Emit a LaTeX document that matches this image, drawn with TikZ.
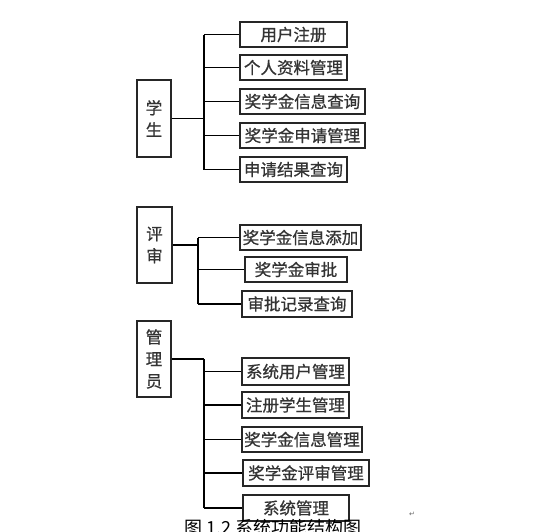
\documentclass[tikz,border=0pt]{standalone}
\usepackage{fontspec}
\newfontfamily\cjk[FakeBold=0.8]{Noto Sans CJK SC}
\newfontfamily\cjkcap{Noto Sans CJK SC}
\newfontfamily\dejavu{DejaVu Sans}
\begin{document}
\begin{tikzpicture}[x=1pt,y=-1pt,
  leaf/.style={draw=black!85,line width=1.4pt,inner sep=0pt,font=\cjk\fontsize{16.5}{18}\selectfont,text=black!80},
  role/.style={draw=black!85,line width=1.4pt,inner sep=0pt,align=center,font=\cjk\fontsize{16.5}{22}\selectfont,text=black!80},
  wire/.style={draw=black,line width=1.2pt}]
\useasboundingbox (0,0) rectangle (559,531);
\clip (0,0) rectangle (559,531);
% helper macro: box from corners
\newcommand{\bx}[6]{\node[#1,minimum width={#4-#2},minimum height={#5-#3}] (#6) at ({(#2+#4)/2},{(#3+#5)/2})}
% student
\bx{role}{137}{80}{171}{157}{stu} {学\\生};
\bx{leaf}{240}{22}{347}{47}{s1} {用户注册};
\bx{leaf}{240}{55}{347}{80}{s2} {个人资料管理};
\bx{leaf}{240}{89}{365}{114}{s3} {奖学金信息查询};
\bx{leaf}{240}{123}{365}{148}{s4} {奖学金申请管理};
\bx{leaf}{240}{157}{347}{182}{s5} {申请结果查询};
\coordinate (xs) at (204,0);
\draw[wire] (stu.east) -- (stu.east -| xs);
\draw[wire] (s1.west -| xs) -- (s5.west -| xs);
\foreach \n in {s1,s2,s3,s4,s5} \draw[wire] (\n.west -| xs) -- (\n.west);
% review
\bx{role}{137}{207}{172}{283}{rev} {评\\审};
\bx{leaf}{240}{225}{361}{250}{r1} {奖学金信息添加};
\bx{leaf}{245}{257}{347}{282}{r2} {奖学金审批};
\bx{leaf}{242}{291}{352}{317}{r3} {审批记录查询};
\coordinate (xr) at (198,0);
\draw[wire] (rev.east) -- (rev.east -| xr);
\draw[wire] (r1.west -| xr) -- (r3.west -| xr);
\foreach \n in {r1,r2,r3} \draw[wire] (\n.west -| xr) -- (\n.west);
% admin
\bx{role}{137}{321}{171}{397}{adm} {管\\理\\员};
\bx{leaf}{242}{358}{349}{385}{a1} {系统用户管理};
\bx{leaf}{242}{392}{349}{418}{a2} {注册学生管理};
\bx{leaf}{242}{427}{362}{452}{a3} {奖学金信息管理};
\bx{leaf}{243}{460}{369}{486}{a4} {奖学金评审管理};
\bx{leaf}{243}{495}{349}{521}{a5} {系统管理};
\coordinate (xa) at (204,0);
\draw[wire] (adm.east) -- (adm.east -| xa);
\draw[wire] (adm.east -| xa) -- (a5.west -| xa);
\foreach \n in {a1,a2,a3,a4,a5} \draw[wire] (\n.west -| xa) -- (\n.west);
% caption (cut off at the bottom, as in the reference)
\node[anchor=north west,inner sep=0pt,font=\cjkcap\fontsize{18}{20}\selectfont] (cap) at (184,519) {图 1.2 系统功能结构图};
\node[anchor=north west,inner sep=0pt,font=\dejavu\fontsize{7}{8}\selectfont,text=black!60] (ret) at (409,512) {↵};
\end{tikzpicture}
\end{document}
